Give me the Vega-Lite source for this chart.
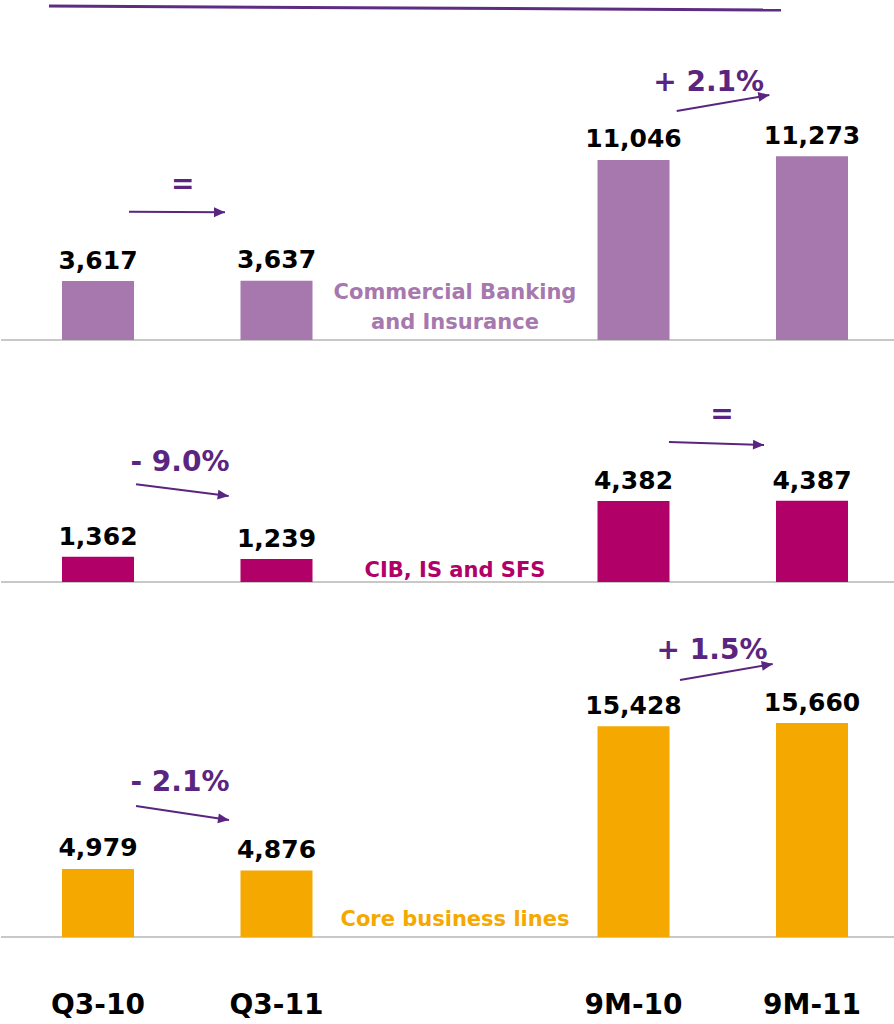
{
  "$schema": "https://vega.github.io/schema/vega-lite/v6.json",
  "background": "white",
  "padding": 0,
  "spacing": 0,
  "bounds": "flush",
  "config": {"view": {"stroke": null}, "font": "DejaVu Sans"},
  "datasets": {
    "bars": [
      {"segment": "Commercial Banking and Insurance", "period": "Q3-10", "value": 3617},
      {"segment": "Commercial Banking and Insurance", "period": "Q3-11", "value": 3637},
      {"segment": "Commercial Banking and Insurance", "period": "9M-10", "value": 11046},
      {"segment": "Commercial Banking and Insurance", "period": "9M-11", "value": 11273},
      {"segment": "CIB, IS and SFS", "period": "Q3-10", "value": 1362},
      {"segment": "CIB, IS and SFS", "period": "Q3-11", "value": 1239},
      {"segment": "CIB, IS and SFS", "period": "9M-10", "value": 4382},
      {"segment": "CIB, IS and SFS", "period": "9M-11", "value": 4387},
      {"segment": "Core business lines", "period": "Q3-10", "value": 4979},
      {"segment": "Core business lines", "period": "Q3-11", "value": 4876},
      {"segment": "Core business lines", "period": "9M-10", "value": 15428},
      {"segment": "Core business lines", "period": "9M-11", "value": 15660}
    ]
  },
  "vconcat": [
    {
      "width": 894, "height": 340,
      "resolve": {"scale": {"x": "independent"}},
      "layer": [
        {"data": {"values": [{}]}, "mark": {"type": "rule", "color": "#C8C8C8", "strokeWidth": 2},
         "encoding": {"y": {"datum": 0, "type": "quantitative", "scale": {"domain": [0, 20860], "nice": false}, "axis": null}}},
        {
          "data": {"name": "bars"},
          "transform": [{"filter": "datum.segment === 'Commercial Banking and Insurance'"}],
          "encoding": {
            "x": {"field": "period", "type": "nominal", "sort": null, "scale": {"type": "band", "domain": ["Q3-10", "Q3-11", " ", "9M-10", "9M-11"], "range": [7.75, 900.25], "paddingInner": 0, "paddingOuter": 0}, "axis": null},
            "y": {"field": "value", "type": "quantitative", "scale": {"domain": [0, 20860], "nice": false}, "axis": null}
          },
          "layer": [
            {"mark": {"type": "bar", "width": 72, "color": "#A678AE"}},
            {"mark": {"type": "text", "fontSize": 25, "fontWeight": "bold", "color": "#000000", "baseline": "alphabetic", "dy": -12.5, "align": "center"},
             "encoding": {"text": {"field": "value", "type": "quantitative", "format": ","}}}
          ]
        },
        {
          "data": {"values": [{}]},
          "layer": [
            {"mark": {"type": "rule", "color": "#5C2D82", "strokeWidth": 3},
             "encoding": {"x": {"datum": 0.2255, "type": "quantitative", "scale": {"domain": [0, 5], "range": [7.75, 900.25], "nice": false, "zero": false}, "axis": null}, "x2": {"datum": 4.3263},
                          "y": {"datum": 20491, "type": "quantitative", "scale": {"domain": [0, 20860], "nice": false}, "axis": null}, "y2": {"datum": 20245}}},
            {"mark": {"type": "text", "fontSize": 28, "fontWeight": "bold", "color": "#5A2580", "align": "center", "baseline": "alphabetic"},
             "encoding": {"x": {"datum": 0.9745, "type": "quantitative", "scale": {"domain": [0, 5], "range": [7.75, 900.25], "nice": false, "zero": false}, "axis": null},
                          "y": {"datum": 9000, "type": "quantitative", "scale": {"domain": [0, 20860], "nice": false}, "axis": null}, "text": {"value": "="}}},
            {"mark": {"type": "rule", "color": "#5A2580", "strokeWidth": 2},
             "encoding": {"x": {"datum": 0.6737, "type": "quantitative", "scale": {"domain": [0, 5], "range": [7.75, 900.25], "nice": false, "zero": false}, "axis": null}, "x2": {"datum": 1.2115},
                          "y": {"datum": 7872, "type": "quantitative", "scale": {"domain": [0, 20860], "nice": false}, "axis": null}, "y2": {"datum": 7835}}},
            {"mark": {"type": "point", "shape": "M0,0L-1,-0.45L-1,0.45Z", "filled": true, "size": 484, "angle": 0.4, "color": "#5A2580", "opacity": 1, "strokeWidth": 0},
             "encoding": {"x": {"datum": 1.2115, "type": "quantitative", "scale": {"domain": [0, 5], "range": [7.75, 900.25], "nice": false, "zero": false}, "axis": null},
                          "y": {"datum": 7835, "type": "quantitative", "scale": {"domain": [0, 20860], "nice": false}, "axis": null}}},
            {"mark": {"type": "text", "fontSize": 28, "fontWeight": "bold", "color": "#5A2580", "align": "center", "baseline": "alphabetic"},
             "encoding": {"x": {"datum": 3.9213, "type": "quantitative", "scale": {"domain": [0, 5], "range": [7.75, 900.25], "nice": false, "zero": false}, "axis": null},
                          "y": {"datum": 15277, "type": "quantitative", "scale": {"domain": [0, 20860], "nice": false}, "axis": null}, "text": {"value": "+ 2.1%"}}},
            {"mark": {"type": "rule", "color": "#5A2580", "strokeWidth": 2},
             "encoding": {"x": {"datum": 3.742, "type": "quantitative", "scale": {"domain": [0, 5], "range": [7.75, 900.25], "nice": false, "zero": false}, "axis": null}, "x2": {"datum": 4.2608},
                          "y": {"datum": 14050, "type": "quantitative", "scale": {"domain": [0, 20860], "nice": false}, "axis": null}, "y2": {"datum": 15032}}},
            {"mark": {"type": "point", "shape": "M0,0L-1,-0.45L-1,0.45Z", "filled": true, "size": 484, "angle": -9.8, "color": "#5A2580", "opacity": 1, "strokeWidth": 0},
             "encoding": {"x": {"datum": 4.2608, "type": "quantitative", "scale": {"domain": [0, 5], "range": [7.75, 900.25], "nice": false, "zero": false}, "axis": null},
                          "y": {"datum": 15032, "type": "quantitative", "scale": {"domain": [0, 20860], "nice": false}, "axis": null}}},
            {"mark": {"type": "text", "fontSize": 21, "fontWeight": "bold", "color": "#A678AE", "align": "center", "baseline": "alphabetic", "lineBreak": "\n", "lineHeight": 30},
             "encoding": {"x": {"datum": 2.5, "type": "quantitative", "scale": {"domain": [0, 5], "range": [7.75, 900.25], "nice": false, "zero": false}, "axis": null},
                          "y": {"datum": 2515, "type": "quantitative", "scale": {"domain": [0, 20860], "nice": false}, "axis": null}, "text": {"value": "Commercial Banking\nand Insurance"}}}
          ]
        }
      ]
    },
    {
      "width": 894, "height": 242,
      "resolve": {"scale": {"x": "independent"}},
      "layer": [
        {"data": {"values": [{}]}, "mark": {"type": "rule", "color": "#C8C8C8", "strokeWidth": 2},
         "encoding": {"y": {"datum": 0, "type": "quantitative", "scale": {"domain": [0, 13081], "nice": false}, "axis": null}}},
        {
          "data": {"name": "bars"},
          "transform": [{"filter": "datum.segment === 'CIB, IS and SFS'"}],
          "encoding": {
            "x": {"field": "period", "type": "nominal", "sort": null, "scale": {"type": "band", "domain": ["Q3-10", "Q3-11", " ", "9M-10", "9M-11"], "range": [7.75, 900.25], "paddingInner": 0, "paddingOuter": 0}, "axis": null},
            "y": {"field": "value", "type": "quantitative", "scale": {"domain": [0, 13081], "nice": false}, "axis": null}
          },
          "layer": [
            {"mark": {"type": "bar", "width": 72, "color": "#B10067"}},
            {"mark": {"type": "text", "fontSize": 25, "fontWeight": "bold", "color": "#000000", "baseline": "alphabetic", "dy": -12, "align": "center"},
             "encoding": {"text": {"field": "value", "type": "quantitative", "format": ","}}}
          ]
        },
        {
          "data": {"values": [{}]},
          "layer": [
            {"mark": {"type": "text", "fontSize": 28, "fontWeight": "bold", "color": "#5A2580", "align": "center", "baseline": "alphabetic"},
             "encoding": {"x": {"datum": 0.9594, "type": "quantitative", "scale": {"domain": [0, 5], "range": [7.75, 900.25], "nice": false, "zero": false}, "axis": null},
                          "y": {"datum": 6016, "type": "quantitative", "scale": {"domain": [0, 13081], "nice": false}, "axis": null}, "text": {"value": "- 9.0%"}}},
            {"mark": {"type": "rule", "color": "#5A2580", "strokeWidth": 2},
             "encoding": {"x": {"datum": 0.7129, "type": "quantitative", "scale": {"domain": [0, 5], "range": [7.75, 900.25], "nice": false, "zero": false}, "axis": null}, "x2": {"datum": 1.2322},
                          "y": {"datum": 5281, "type": "quantitative", "scale": {"domain": [0, 13081], "nice": false}, "axis": null}, "y2": {"datum": 4649}}},
            {"mark": {"type": "point", "shape": "M0,0L-1,-0.45L-1,0.45Z", "filled": true, "size": 484, "angle": 7.2, "color": "#5A2580", "opacity": 1, "strokeWidth": 0},
             "encoding": {"x": {"datum": 1.2322, "type": "quantitative", "scale": {"domain": [0, 5], "range": [7.75, 900.25], "nice": false, "zero": false}, "axis": null},
                          "y": {"datum": 4649, "type": "quantitative", "scale": {"domain": [0, 13081], "nice": false}, "axis": null}}},
            {"mark": {"type": "text", "fontSize": 28, "fontWeight": "bold", "color": "#5A2580", "align": "center", "baseline": "alphabetic"},
             "encoding": {"x": {"datum": 3.9958, "type": "quantitative", "scale": {"domain": [0, 5], "range": [7.75, 900.25], "nice": false, "zero": false}, "axis": null},
                          "y": {"datum": 8600, "type": "quantitative", "scale": {"domain": [0, 13081], "nice": false}, "axis": null}, "text": {"value": "="}}},
            {"mark": {"type": "rule", "color": "#5A2580", "strokeWidth": 2},
             "encoding": {"x": {"datum": 3.6989, "type": "quantitative", "scale": {"domain": [0, 5], "range": [7.75, 900.25], "nice": false, "zero": false}, "axis": null}, "x2": {"datum": 4.2311},
                          "y": {"datum": 7568, "type": "quantitative", "scale": {"domain": [0, 13081], "nice": false}, "axis": null}, "y2": {"datum": 7405}}},
            {"mark": {"type": "point", "shape": "M0,0L-1,-0.45L-1,0.45Z", "filled": true, "size": 484, "angle": 1.8, "color": "#5A2580", "opacity": 1, "strokeWidth": 0},
             "encoding": {"x": {"datum": 4.2311, "type": "quantitative", "scale": {"domain": [0, 5], "range": [7.75, 900.25], "nice": false, "zero": false}, "axis": null},
                          "y": {"datum": 7405, "type": "quantitative", "scale": {"domain": [0, 13081], "nice": false}, "axis": null}}},
            {"mark": {"type": "text", "fontSize": 21, "fontWeight": "bold", "color": "#B10067", "align": "center", "baseline": "alphabetic"},
             "encoding": {"x": {"datum": 2.5, "type": "quantitative", "scale": {"domain": [0, 5], "range": [7.75, 900.25], "nice": false, "zero": false}, "axis": null},
                          "y": {"datum": 286, "type": "quantitative", "scale": {"domain": [0, 13081], "nice": false}, "axis": null}, "text": {"value": "CIB, IS and SFS"}}}
          ]
        }
      ]
    },
    {
      "width": 894, "height": 355,
      "resolve": {"scale": {"x": "independent"}},
      "layer": [
        {"data": {"values": [{}]}, "mark": {"type": "rule", "color": "#C8C8C8", "strokeWidth": 2},
         "encoding": {"y": {"datum": 0, "type": "quantitative", "scale": {"domain": [0, 25988], "nice": false}, "axis": null}}},
        {
          "data": {"name": "bars"},
          "transform": [{"filter": "datum.segment === 'Core business lines'"}],
          "encoding": {
            "x": {"field": "period", "type": "nominal", "sort": null, "scale": {"type": "band", "domain": ["Q3-10", "Q3-11", " ", "9M-10", "9M-11"], "range": [7.75, 900.25], "paddingInner": 0, "paddingOuter": 0},
                  "axis": {"orient": "bottom", "title": null, "domain": false, "ticks": false, "grid": false, "labelAngle": 0, "labelFont": "DejaVu Sans", "labelFontSize": 28, "labelFontWeight": "bold", "labelColor": "#000000", "labelPadding": 54, "labelOverlap": false, "labelBound": false}},
            "y": {"field": "value", "type": "quantitative", "scale": {"domain": [0, 25988], "nice": false}, "axis": null}
          },
          "layer": [
            {"mark": {"type": "bar", "width": 72, "color": "#F5A800"}},
            {"mark": {"type": "text", "fontSize": 25, "fontWeight": "bold", "color": "#000000", "baseline": "alphabetic", "dy": -12.5, "align": "center"},
             "encoding": {"text": {"field": "value", "type": "quantitative", "format": ","}}}
          ]
        },
        {
          "data": {"values": [{}]},
          "layer": [
            {"mark": {"type": "text", "fontSize": 28, "fontWeight": "bold", "color": "#5A2580", "align": "center", "baseline": "alphabetic"},
             "encoding": {"x": {"datum": 3.9398, "type": "quantitative", "scale": {"domain": [0, 5], "range": [7.75, 900.25], "nice": false, "zero": false}, "axis": null},
                          "y": {"datum": 20330, "type": "quantitative", "scale": {"domain": [0, 25988], "nice": false}, "axis": null}, "text": {"value": "+ 1.5%"}}},
            {"mark": {"type": "rule", "color": "#5A2580", "strokeWidth": 2},
             "encoding": {"x": {"datum": 3.7605, "type": "quantitative", "scale": {"domain": [0, 5], "range": [7.75, 900.25], "nice": false, "zero": false}, "axis": null}, "x2": {"datum": 4.2798},
                          "y": {"datum": 18814, "type": "quantitative", "scale": {"domain": [0, 25988], "nice": false}, "axis": null}, "y2": {"datum": 19985}}},
            {"mark": {"type": "point", "shape": "M0,0L-1,-0.45L-1,0.45Z", "filled": true, "size": 484, "angle": -9.8, "color": "#5A2580", "opacity": 1, "strokeWidth": 0},
             "encoding": {"x": {"datum": 4.2798, "type": "quantitative", "scale": {"domain": [0, 5], "range": [7.75, 900.25], "nice": false, "zero": false}, "axis": null},
                          "y": {"datum": 19985, "type": "quantitative", "scale": {"domain": [0, 25988], "nice": false}, "axis": null}}},
            {"mark": {"type": "text", "fontSize": 28, "fontWeight": "bold", "color": "#5A2580", "align": "center", "baseline": "alphabetic"},
             "encoding": {"x": {"datum": 0.9594, "type": "quantitative", "scale": {"domain": [0, 5], "range": [7.75, 900.25], "nice": false, "zero": false}, "axis": null},
                          "y": {"datum": 10688, "type": "quantitative", "scale": {"domain": [0, 25988], "nice": false}, "axis": null}, "text": {"value": "- 2.1%"}}},
            {"mark": {"type": "rule", "color": "#5A2580", "strokeWidth": 2},
             "encoding": {"x": {"datum": 0.7129, "type": "quantitative", "scale": {"domain": [0, 5], "range": [7.75, 900.25], "nice": false, "zero": false}, "axis": null}, "x2": {"datum": 1.2339},
                          "y": {"datum": 9590, "type": "quantitative", "scale": {"domain": [0, 25988], "nice": false}, "axis": null}, "y2": {"datum": 8565}}},
            {"mark": {"type": "point", "shape": "M0,0L-1,-0.45L-1,0.45Z", "filled": true, "size": 484, "angle": 8.6, "color": "#5A2580", "opacity": 1, "strokeWidth": 0},
             "encoding": {"x": {"datum": 1.2339, "type": "quantitative", "scale": {"domain": [0, 5], "range": [7.75, 900.25], "nice": false, "zero": false}, "axis": null},
                          "y": {"datum": 8565, "type": "quantitative", "scale": {"domain": [0, 25988], "nice": false}, "axis": null}}},
            {"mark": {"type": "text", "fontSize": 21, "fontWeight": "bold", "color": "#F5A800", "align": "center", "baseline": "alphabetic"},
             "encoding": {"x": {"datum": 2.5, "type": "quantitative", "scale": {"domain": [0, 5], "range": [7.75, 900.25], "nice": false, "zero": false}, "axis": null},
                          "y": {"datum": 805, "type": "quantitative", "scale": {"domain": [0, 25988], "nice": false}, "axis": null}, "text": {"value": "Core business lines"}}}
          ]
        }
      ]
    }
  ]
}
